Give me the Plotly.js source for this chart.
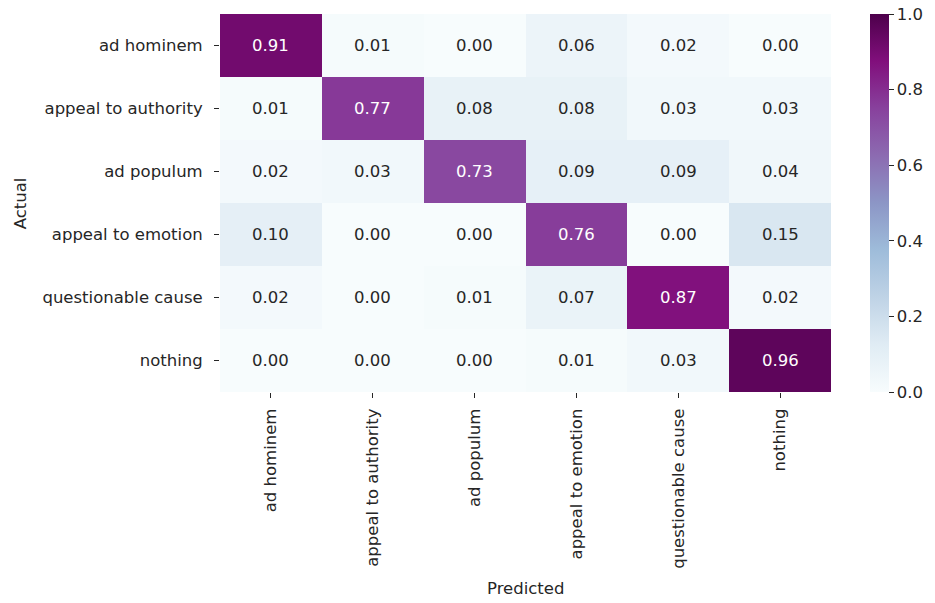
<!DOCTYPE html>
<html>
<head>
<meta charset="utf-8">
<script src="https://cdn.plot.ly/plotly-3.0.1.min.js"></script>
<style>html,body{margin:0;padding:0;background:#fff;}#chart{width:935px;height:603px;}</style>
</head>
<body>
<div id="chart"></div>
<script>
const categories = ["ad hominem", "appeal to authority", "ad populum", "appeal to emotion", "questionable cause", "nothing"];
const row_ad_hominem = [0.91, 0.01, 0.00, 0.06, 0.02, 0.00];
const row_appeal_to_authority = [0.01, 0.77, 0.08, 0.08, 0.03, 0.03];
const row_ad_populum = [0.02, 0.03, 0.73, 0.09, 0.09, 0.04];
const row_appeal_to_emotion = [0.10, 0.00, 0.00, 0.76, 0.00, 0.15];
const row_questionable_cause = [0.02, 0.00, 0.01, 0.07, 0.87, 0.02];
const row_nothing = [0.00, 0.00, 0.00, 0.01, 0.03, 0.96];
const colorbarTicks = [0.0, 0.2, 0.4, 0.6, 0.8, 1.0];

const z = [row_ad_hominem, row_appeal_to_authority, row_ad_populum, row_appeal_to_emotion, row_questionable_cause, row_nothing];

const BuPu = [
  [0.0, "#f7fcfd"], [0.125, "#e0ecf4"], [0.25, "#bfd3e6"], [0.375, "#9ebcda"],
  [0.5, "#8c96c6"], [0.625, "#8c6bb1"], [0.75, "#88419d"], [0.875, "#810f7c"], [1.0, "#4d004b"]
];

const FONT = "DejaVu Sans, sans-serif";
const FS = 16.5;
const annotations = [];
z.forEach((row, i) => {
  row.forEach((v, j) => {
    annotations.push({
      x: categories[j], y: categories[i], xref: "x", yref: "y",
      text: v.toFixed(2), showarrow: false,
      font: {family: FONT, size: FS, color: v > 0.5 ? "#ffffff" : "#262626"}
    });
  });
});
annotations.push({
  text: "Actual", xref: "paper", yref: "paper", x: (20 - 220) / 612, y: 0.5,
  xanchor: "center", yanchor: "middle",
  textangle: -90, showarrow: false, font: {family: FONT, size: FS, color: "#262626"}
});
annotations.push({
  text: "Predicted", xref: "paper", yref: "paper", x: 0.5, y: -(588 - 392) / 378,
  xanchor: "center", yanchor: "middle",
  showarrow: false, font: {family: FONT, size: FS, color: "#262626"}
});

const trace = {
  type: "heatmap",
  x: categories, y: categories, z: z,
  zmin: 0, zmax: 1,
  colorscale: BuPu,
  xgap: 0, ygap: 0,
  hoverinfo: "none",
  colorbar: {
    x: (870 - 220) / 612, xanchor: "left", xpad: 0, ypad: 0,
    thickness: 19, len: 1, lenmode: "fraction", y: 0.5, yanchor: "middle",
    outlinewidth: 0,
    tickvals: colorbarTicks, ticktext: colorbarTicks.map(v => v.toFixed(1)),
    ticks: "outside", ticklen: 5, tickwidth: 1, tickcolor: "#262626",
    ticklabelstandoff: 3,
    tickfont: {family: FONT, size: FS, color: "#262626"}
  }
};

const layout = {
  width: 935, height: 603,
  margin: {l: 220, r: 103, t: 14, b: 211},
  paper_bgcolor: "#ffffff", plot_bgcolor: "#ffffff",
  font: {family: FONT, size: FS, color: "#262626"},
  xaxis: {
    type: "category", tickangle: -90, ticks: "outside", ticklen: 5, tickwidth: 1, tickcolor: "#262626",
    showgrid: false, zeroline: false, showline: false, ticklabelstandoff: 4,
    tickfont: {family: FONT, size: FS, color: "#262626"}
  },
  yaxis: {
    type: "category", autorange: "reversed", ticks: "outside", ticklen: 5, tickwidth: 1, tickcolor: "#262626",
    showgrid: false, zeroline: false, showline: false, ticklabelstandoff: 8,
    tickfont: {family: FONT, size: FS, color: "#262626"}
  },
  annotations: annotations
};

Plotly.newPlot("chart", [trace], layout, {staticPlot: true, displayModeBar: false});
</script>
</body>
</html>
